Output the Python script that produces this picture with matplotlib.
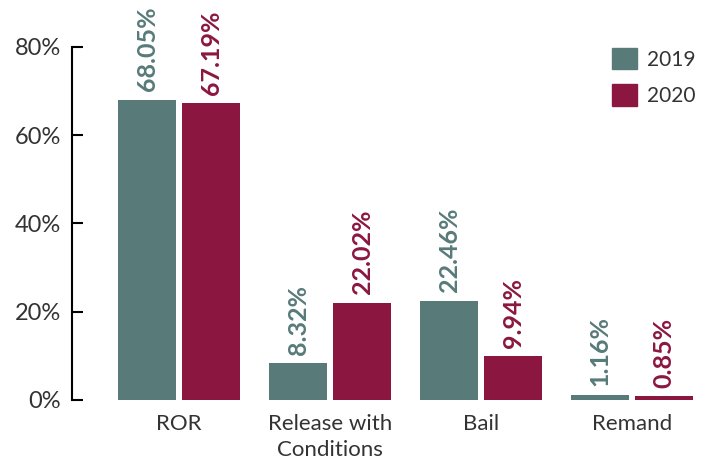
import numpy as np
import matplotlib.pyplot as plt
from matplotlib.patches import Patch

categories = ["ROR", "Release with\nConditions", "Bail", "Remand"]
values_2019 = [68.05, 8.32, 22.46, 1.16]
values_2020 = [67.19, 22.02, 9.94, 0.85]
y_ticks = [0, 20, 40, 60, 80]

color_2019 = "#587b7a"
color_2020 = "#8b1740"
text_color = "#333333"

plt.rcParams["font.family"] = ["Lato", "DejaVu Sans"]

fig = plt.figure(figsize=(7.15, 4.65), dpi=100)
ax = fig.add_axes([0.1007, 0.14, 0.885, 0.759])

x = np.arange(len(categories))
width = 0.384
offset = 0.212

bars1 = ax.bar(x - offset, values_2019, width, color=color_2019)
bars2 = ax.bar(x + offset, values_2020, width, color=color_2020)

# value labels above each bar, rotated
for bars, vals, col in [(bars1, values_2019, color_2019), (bars2, values_2020, color_2020)]:
    for b, v in zip(bars, vals):
        ax.annotate(f"{v:.2f}%", (b.get_x() + b.get_width() / 2, v),
                    xytext=(0, 6), textcoords="offset points",
                    rotation=90, ha="center", va="bottom",
                    fontsize=18, fontweight="bold", color=col)

ax.set_xlim(-0.709, 3.48)
ax.set_ylim(0, 80)
ax.set_yticks(y_ticks)
ax.set_yticklabels([f"{t}%" for t in y_ticks])
ax.set_xticks(x)
ax.set_xticklabels(categories, linespacing=1.4)

for s in ["top", "right", "bottom"]:
    ax.spines[s].set_visible(False)
ax.spines["left"].set_linewidth(1.5)
ax.tick_params(axis="y", direction="in", length=8, width=1.5, labelsize=17,
               labelcolor=text_color, pad=8)
ax.tick_params(axis="x", length=0, labelsize=16, labelcolor=text_color, pad=10)

handles = [Patch(color=color_2019, label="2019"), Patch(color=color_2020, label="2020")]
ax.legend(handles=handles, loc="upper right", bbox_to_anchor=(1.015, 1.05),
          frameon=False, fontsize=15, handlelength=1.2, handleheight=1.2,
          labelspacing=0.7, handletextpad=0.5, labelcolor=text_color)

fig.savefig("out.png", dpi=100)
